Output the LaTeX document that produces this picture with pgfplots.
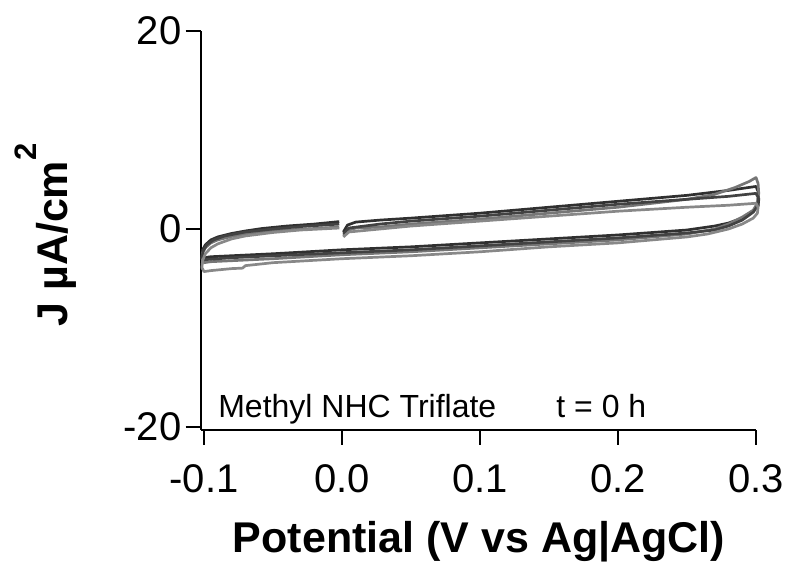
\documentclass[border=0pt]{standalone}
\usepackage{fontspec}
\setmainfont{Liberation Sans}
\usepackage{pgfplots}
\pgfplotsset{compat=1.18}

\definecolor{cvdark}{RGB}{48,48,48}
\definecolor{cvdark2}{RGB}{66,66,66}
\definecolor{cvgray}{RGB}{118,118,118}
\definecolor{cvgray2}{RGB}{136,136,136}

\begin{document}
\begin{tikzpicture}
\begin{axis}[
  scale only axis,
  width=277.75pt, height=199.5pt,
  xmin=-0.1025, xmax=0.3,
  ymin=-20.3, ymax=20,
  axis x line*=bottom,
  axis y line*=left,
  axis line style={line width=1pt, black},
  tick style={line width=1pt, black},
  tick align=outside,
  major tick length=7.5pt,
  xtick={-0.1,0,0.1,0.2,0.3},
  ytick={-20,0,20},
  minor tick num=0,
  /pgf/number format/assume math mode=true,
  xticklabel style={font=\fontsize{20}{22}\selectfont, yshift=-6.5pt,
    /pgf/number format/.cd, fixed, fixed zerofill, precision=1},
  yticklabel style={font=\fontsize{20}{22}\selectfont, xshift=1.5pt},
  xlabel={\textbf{Potential (V vs Ag|AgCl)}},
  xlabel style={font=\fontsize{21.5}{24}\selectfont, at={(rel axis cs:0.5013,-0.3058)}, anchor=base},
  ylabel={\textbf{J µA/cm\raisebox{15.5pt}{\fontsize{15.5}{16}\selectfont 2}}},
  ylabel style={font=\fontsize{21.5}{24}\selectfont, at={(rel axis cs:-0.2403,0.4887)}, anchor=base, rotate=0},
  clip=false,
  every axis plot/.append style={line width=1.35pt, line join=round},
]
% cycle 1
\addplot[cvdark] coordinates {
(0.001,-0.3) (0.004,0.4) (0.01,0.7) (0.0275,0.9) (0.05,1.1) (0.1,1.6) (0.15,2.2) (0.2,2.8) (0.25,3.4) (0.28,3.9) (0.295,4.2) (0.3,4.3)
(0.3015,3.8) (0.302,3.0) (0.3015,2.3)
(0.298,1.8) (0.29,1.1) (0.28,0.6) (0.27,0.3) (0.25,-0.1) (0.2,-0.6) (0.15,-1.0) (0.1,-1.4) (0.05,-1.8) (0.0,-2.1) (-0.05,-2.5) (-0.08,-2.7) (-0.095,-2.8) (-0.1,-2.9)
(-0.1015,-2.6) (-0.101,-2.1) (-0.099,-1.6) (-0.095,-1.1) (-0.09,-0.8) (-0.08,-0.45) (-0.07,-0.2) (-0.058,0.05) (-0.04,0.3) (-0.02,0.5) (-0.002,0.75)
};
% cycle 2
\addplot[cvgray] coordinates {
(0.001,-0.7) (0.005,-0.1) (0.01,0.1) (0.0275,0.2) (0.05,0.5) (0.1,1.0) (0.15,1.6) (0.2,2.2) (0.25,3.0) (0.27,3.5) (0.285,4.2) (0.295,4.8) (0.3,5.2)
(0.3015,4.6) (0.302,3.6) (0.301,2.6)
(0.298,1.9) (0.29,1.2) (0.28,0.5) (0.27,0.0) (0.25,-0.5) (0.2,-1.1) (0.15,-1.5) (0.1,-1.9) (0.05,-2.3) (0.0,-2.6) (-0.05,-3.0) (-0.08,-3.2) (-0.095,-3.3) (-0.1,-3.4)
(-0.1015,-3.0) (-0.101,-2.4) (-0.099,-1.9) (-0.095,-1.4) (-0.09,-1.1) (-0.08,-0.75) (-0.07,-0.5) (-0.058,-0.3) (-0.04,-0.1) (-0.02,0.05) (-0.002,0.2)
};
% cycle 3
\addplot[cvdark2] coordinates {
(0.001,-0.5) (0.005,0.1) (0.0275,0.5) (0.05,0.8) (0.1,1.3) (0.15,1.9) (0.2,2.5) (0.25,3.0) (0.28,3.3) (0.3,3.6)
(0.3015,3.2) (0.3015,2.4)
(0.298,1.7) (0.29,0.9) (0.28,0.3) (0.27,-0.1) (0.25,-0.4) (0.2,-0.9) (0.15,-1.3) (0.1,-1.7) (0.05,-2.1) (0.0,-2.4) (-0.05,-2.7) (-0.08,-2.9) (-0.1,-3.1)
(-0.1015,-2.8) (-0.1005,-2.2) (-0.098,-1.6) (-0.093,-1.1) (-0.085,-0.7) (-0.07,-0.3) (-0.05,0.0) (-0.03,0.25) (-0.002,0.5)
};
% cycle 4
\addplot[cvgray2] coordinates {
(0.001,-0.8) (0.005,-0.3) (0.0275,0.0) (0.05,0.3) (0.1,0.8) (0.15,1.3) (0.2,1.8) (0.25,2.2) (0.28,2.4) (0.3,2.6)
(0.3015,2.2) (0.301,1.6)
(0.298,1.1) (0.29,0.5) (0.28,0.0) (0.265,-0.5) (0.25,-0.8) (0.2,-1.4) (0.15,-1.8) (0.1,-2.3) (0.05,-2.7) (0.0,-3.0) (-0.05,-3.4) (-0.07,-3.7) (-0.072,-3.95) (-0.08,-4.0) (-0.095,-4.2) (-0.1,-4.3)
(-0.1015,-3.9) (-0.101,-3.2) (-0.099,-2.5) (-0.095,-1.9) (-0.09,-1.5) (-0.08,-1.0) (-0.07,-0.7) (-0.05,-0.35) (-0.03,-0.1) (-0.002,0.1)
};
\node[anchor=base west, font=\fontsize{16}{18}\selectfont, inner sep=0pt] at (axis cs:-0.0899,-19.0) {Methyl NHC Triflate};
\node[anchor=base west, font=\fontsize{16}{18}\selectfont, inner sep=0pt] at (axis cs:0.1551,-19.0) {t = 0 h};
\coordinate (bbl) at (rel axis cs:-0.361,-0.338);
\coordinate (btr) at (rel axis cs:1.0666,1.0777);
\end{axis}
\pgfresetboundingbox
\path[use as bounding box] (bbl) rectangle (btr);
\end{tikzpicture}
\end{document}
